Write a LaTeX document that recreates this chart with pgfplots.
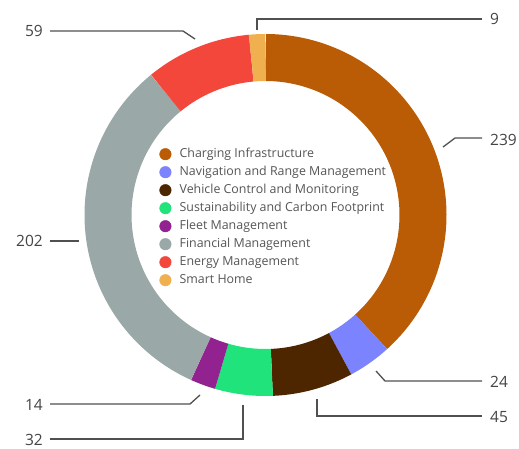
\documentclass[border=0pt]{standalone}
\usepackage{pgfplots}
\usepackage{pgfplotstable}
\pgfplotsset{compat=1.18}
\usepackage{fontspec}
\setmainfont{Open Sans}

\definecolor{cCharging}{RGB}{185,92,5}
\definecolor{cNavigation}{RGB}{123,131,255}
\definecolor{cVehicle}{RGB}{77,38,0}
\definecolor{cSustain}{RGB}{32,228,123}
\definecolor{cFleet}{RGB}{146,34,144}
\definecolor{cFinancial}{RGB}{154,168,167}
\definecolor{cEnergy}{RGB}{244,71,60}
\definecolor{cSmart}{RGB}{240,176,80}
\definecolor{labeltext}{RGB}{68,68,68}
\definecolor{legendtext}{RGB}{85,85,85}
\definecolor{leader}{RGB}{80,80,80}

% slices clockwise from 12 o'clock
\pgfplotstableread[col sep=comma]{
label,value,color
Charging Infrastructure,239,cCharging
Navigation and Range Management,24,cNavigation
Vehicle Control and Monitoring,45,cVehicle
Sustainability and Carbon Footprint,32,cSustain
Fleet Management,14,cFleet
Financial Management,202,cFinancial
Energy Management,59,cEnergy
Smart Home,9,cSmart
}\donut

\xdef\total{0}
\pgfplotstableforeachcolumnelement{value}\of\donut\as\v{%
  \pgfmathparse{\total+\v}\xdef\total{\pgfmathresult}}

% donut geometry, picture in pixel units (y up)
\def\cx{265.5}
\def\cy{234}
\def\rmid{157.5}
\def\ring{47bp}

\begin{document}
\begin{tikzpicture}
\begin{axis}[
    scale only axis, width=519bp, height=449bp,
    xmin=0, xmax=519, ymin=0, ymax=449,
    hide axis, clip=false,
    legend cell align=left,
    legend style={
        at={(0.3064,0.6704)}, anchor=north west,
        draw=none, fill=none, inner sep=0pt,
        font=\fontsize{12.4bp}{13bp}\selectfont\color{legendtext},
        row sep=6bp,
        nodes={inner sep=0pt, text height=9bp, text depth=3bp},
    },
    legend image code/.code={%
        \path (0bp,0bp) (20bp,0bp);
        \draw[#1] plot coordinates {(6bp,0bp)};},
]
\path (axis cs:0,0) rectangle (axis cs:519,449);

\xdef\cum{0}
\pgfplotsforeachungrouped \i in {0,...,7}{%
  \pgfplotstablegetelem{\i}{value}\of\donut \let\v\pgfplotsretval
  \pgfplotstablegetelem{\i}{color}\of\donut \let\c\pgfplotsretval
  \pgfmathsetmacro\aS{90-(\cum/\total)*360}
  \pgfmathsetmacro\aE{90-((\cum+\v)/\total)*360}
  \edef\temp{\noexpand\addplot[draw=\c, line width=\ring, line cap=butt,
      domain=\aE:\aS, samples=90, variable=\noexpand\t, forget plot]
      ({\cx+\rmid*cos(\noexpand\t)},{\cy+\rmid*sin(\noexpand\t)});}
  \temp
  \pgfmathparse{\cum+\v}\xdef\cum{\pgfmathresult}
}

% legend entries
\pgfplotsforeachungrouped \i in {0,...,7}{%
  \pgfplotstablegetelem{\i}{label}\of\donut \let\l\pgfplotsretval
  \pgfplotstablegetelem{\i}{color}\of\donut \let\c\pgfplotsretval
  \edef\temp{\noexpand\addlegendimage{only marks, mark=*, mark size=5.8bp,
      mark options={fill=\c, draw=\c}}\noexpand\addlegendentry{\l}}
  \temp
}

% leader lines
\addplot[leader, line width=1.3bp, forget plot] coordinates {(50,418) (183,418) (195,410)};
\addplot[leader, line width=1.3bp, forget plot] coordinates {(482,430) (257,430) (257,419)};
\addplot[leader, line width=1.3bp, forget plot] coordinates {(482,311) (455,311) (443,302)};
\addplot[leader, line width=1.3bp, forget plot] coordinates {(50,208) (79,208)};
\addplot[leader, line width=1.3bp, forget plot] coordinates {(482,68) (385,68) (376,78)};
\addplot[leader, line width=1.3bp, forget plot] coordinates {(482,33) (317,33) (317,50)};
\addplot[leader, line width=1.3bp, forget plot] coordinates {(50,45) (190,45) (200,54)};
\addplot[leader, line width=1.3bp, forget plot] coordinates {(50,10) (243,10) (243,44)};

% value labels
\begin{scope}[every node/.style={font=\fontsize{15.5bp}{18bp}\selectfont, text=labeltext, inner sep=0pt}]
\node[anchor=east] at (axis cs:43,418) {59};
\node[anchor=west] at (axis cs:490,430) {9};
\node[anchor=west] at (axis cs:490,309) {239};
\node[anchor=east] at (axis cs:43,208) {202};
\node[anchor=west] at (axis cs:490,67) {24};
\node[anchor=west] at (axis cs:490,32) {45};
\node[anchor=east] at (axis cs:43,44) {14};
\node[anchor=east] at (axis cs:43,9) {32};
\end{scope}
\end{axis}
\end{tikzpicture}
\end{document}
